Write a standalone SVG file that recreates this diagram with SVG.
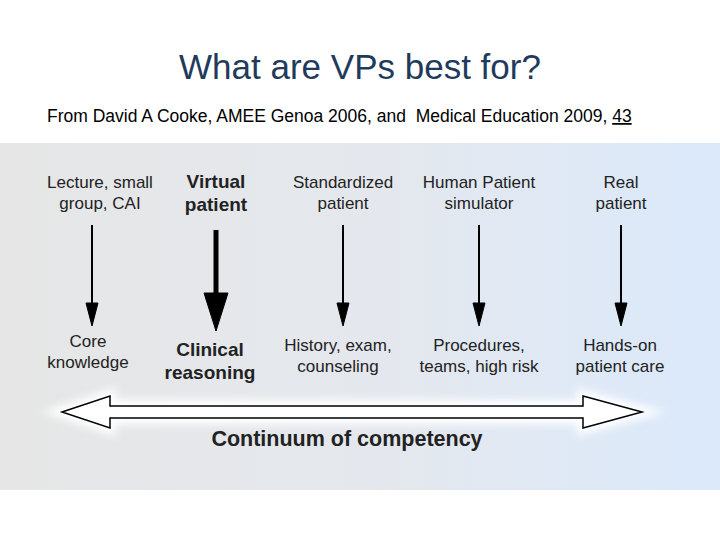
<svg xmlns="http://www.w3.org/2000/svg" width="720" height="540" viewBox="0 0 720 540">
<defs>
<linearGradient id="bg" x1="0" y1="0" x2="1" y2="0">
<stop offset="0" stop-color="#e6e6e6"/><stop offset="0.55" stop-color="#e4e8ee"/><stop offset="1" stop-color="#dbe9fb"/>
</linearGradient>
<filter id="glow" x="-10%" y="-60%" width="120%" height="220%"><feGaussianBlur stdDeviation="4"/></filter>
</defs>
<style>
.t{font-family:"Liberation Sans",Arial,sans-serif;font-size:17px;fill:#222;text-anchor:middle}
.b{font-weight:bold;font-size:19px}
</style>
<rect width="720" height="540" fill="#fff"/>
<rect x="0" y="143" width="720" height="347" fill="url(#bg)"/>
<text x="360" y="79" font-family="Liberation Sans,Arial,sans-serif" font-size="35" fill="#1f3b5c" text-anchor="middle">What are VPs best for?</text>
<text x="47" y="122" font-family="Liberation Sans,Arial,sans-serif" font-size="17.5" fill="#000" xml:space="preserve">From David A Cooke, AMEE Genoa 2006, and  Medical Education 2009, <tspan text-decoration="underline">43</tspan></text>
<g id="n1"><text class="t" x="100" y="188">Lecture, small</text><text class="t" x="100" y="209">group, CAI</text><text class="t" x="88" y="347">Core</text><text class="t" x="88" y="368">knowledge</text></g>
<g id="n2"><text class="t b" x="216" y="188">Virtual</text><text class="t b" x="216" y="211">patient</text><text class="t b" x="210" y="356">Clinical</text><text class="t b" x="210" y="379">reasoning</text></g>
<g id="n3"><text class="t" x="343" y="188">Standardized</text><text class="t" x="343" y="209">patient</text><text class="t" x="338" y="351">History, exam,</text><text class="t" x="338" y="372">counseling</text></g>
<g id="n4"><text class="t" x="479" y="188">Human Patient</text><text class="t" x="479" y="209">simulator</text><text class="t" x="479" y="351">Procedures,</text><text class="t" x="479" y="372">teams, high risk</text></g>
<g id="n5"><text class="t" x="621" y="188">Real</text><text class="t" x="621" y="209">patient</text><text class="t" x="620" y="351">Hands-on</text><text class="t" x="620" y="372">patient care</text></g>
<g id="connectors" fill="#000" stroke="#000">
<line x1="92" y1="225" x2="92" y2="305" stroke-width="2"/><path d="M86,303 L98,303 L92,326 Z"/>
<line x1="216" y1="230" x2="216" y2="295" stroke-width="5"/><path d="M204,293 L228,293 L216,331 Z"/>
<line x1="343" y1="225" x2="343" y2="305" stroke-width="2"/><path d="M337,303 L349,303 L343,326 Z"/>
<line x1="479" y1="225" x2="479" y2="305" stroke-width="2"/><path d="M473,303 L485,303 L479,326 Z"/>
<line x1="621" y1="225" x2="621" y2="305" stroke-width="2"/><path d="M615,303 L627,303 L621,326 Z"/>
</g>
<g id="continuum">
<path d="M62,412 L110,396 L110,406 L583,406 L583,396 L642,412 L583,428 L583,418 L110,418 L110,428 Z" fill="none" stroke="#fff" stroke-width="12" filter="url(#glow)"/>
<path d="M62,412 L110,396 L110,406 L583,406 L583,396 L642,412 L583,428 L583,418 L110,418 L110,428 Z" fill="#fff" stroke="#000" stroke-width="1.5"/>
<text class="t b" x="347" y="446" style="font-size:21.5px">Continuum of competency</text>
</g>
</svg>
